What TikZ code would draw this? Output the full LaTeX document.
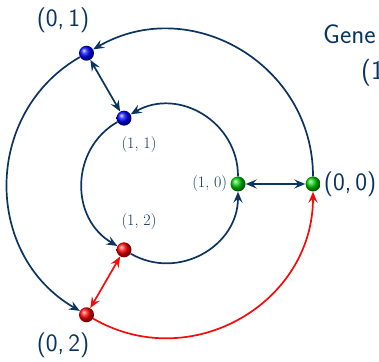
\documentclass[tikz,border=0pt]{standalone}
\definecolor{SGNavy}{HTML}{0B3560}
\definecolor{SGRed}{HTML}{F20D0D}
\usepackage{tikz}
\usetikzlibrary{positioning,arrows.meta,shadings}

\begin{document}
\begin{tikzpicture}[x=1pt, y=1pt,
    ball/.style={circle, inner sep=0pt, minimum size=15pt, shading=ball, ball color=#1},
    arc/.style={draw=SGNavy, line width=1.7pt, -{Stealth[length=11pt,width=9pt,inset=4pt]}},
    both/.style={draw=SGNavy, line width=1.7pt, {Stealth[length=11pt,width=9pt,inset=4pt]}-{Stealth[length=11pt,width=9pt,inset=4pt]}},
    big/.style={text=SGNavy, font=\sffamily\fontsize{25}{30}\selectfont, inner sep=0pt},
    small/.style={text=SGNavy, font=\fontsize{16}{19}\selectfont, inner sep=0pt}]
    \clip (0,0) rectangle (379,361);
    \coordinate (c) at (162,177);
    % outer ring
    \node[ball=green!80!black] (o0) at ([shift={(0:151)}]c) {};
    \node[ball=blue] (o1) at ([shift={(120:151)}]c) {};
    \node[ball=red] (o2) at ([shift={(240:151)}]c) {};
    % inner ring
    \node[ball=green!80!black] (i0) at ([shift={(0:76)}]c) {};
    \node[ball=blue] (i1) at ([shift={(120:76)}]c) {};
    \node[ball=red] (i2) at ([shift={(240:76)}]c) {};
    % labels
    \node[big] (l01) at (63,341) {(0,\,1)};
    \node[big] (l02) at (63,16) {(0,\,2)};
    \node[big, right=3pt of o0] (l00) {(0,\,0)};
    \node[small] (l11) at (139,216) {(1, 1)};
    \node[small] (l12) at (139,139) {(1, 2)};
    \node[small, left=3pt of i0] (l10) {(1, 0)};
    \node[big, anchor=west, font=\sffamily\fontsize{27}{32}\selectfont] (gen) at (323,327) {Gene};
    \node[big, anchor=west, font=\sffamily\fontsize{27}{32}\selectfont] (gen2) at (361,288) {(1};
    % arcs
    \draw[arc] (o0) to[out=90, in=30, looseness=1.13] (o1);
    \draw[arc] (o1) to[out=210, in=150, looseness=1.13] (o2);
    \draw[arc, draw=SGRed] (o2) to[out=330, in=270, looseness=1.13] (o0);
    \draw[arc] (i0) to[out=90, in=30, looseness=1.13] (i1);
    \draw[arc] (i1) to[out=210, in=150, looseness=1.13] (i2);
    \draw[arc] (i2) to[out=330, in=270, looseness=1.13] (i0);
    % spokes
    \draw[both] (o1) -- (i1);
    \draw[both] (i0) -- (o0);
    \draw[both, draw=SGRed] (i2) -- (o2);
  \end{tikzpicture}
\end{document}
